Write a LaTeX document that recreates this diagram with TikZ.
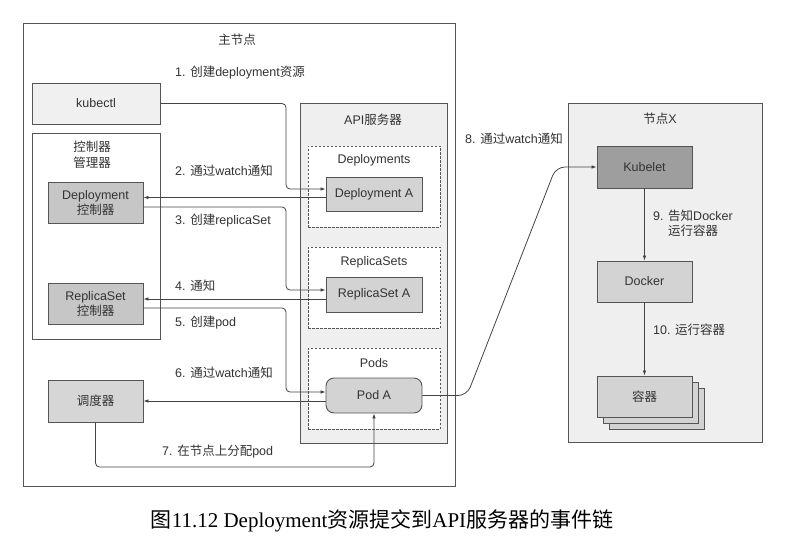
\documentclass[tikz,border=0pt]{standalone}
\usepackage{fontspec}
\setmainfont{Liberation Sans}
\newfontfamily\cjk{Noto Sans CJK SC}
\newfontfamily\capserif{Liberation Serif}
\newcommand\zh[1]{{\cjk #1}}
\usetikzlibrary{arrows.meta}
\definecolor{bd}{HTML}{555555}
\definecolor{ln}{HTML}{444444}
\definecolor{txt}{HTML}{333333}
\definecolor{flight}{HTML}{F0F0F0}
\definecolor{fpanel}{HTML}{EFEFEF}
\definecolor{fmid}{HTML}{D3D3D3}
\definecolor{fctrl}{HTML}{C6C6C6}
\definecolor{fsched}{HTML}{D6D6D6}
\definecolor{fkube}{HTML}{9E9E9E}
\begin{document}
\begin{tikzpicture}[x=1pt,y=-1pt,
  every node/.style={font=\fontsize{12.5}{15}\selectfont, text=txt},
  frame/.style={draw=bd, line width=0.9pt, inner sep=0pt},
  box/.style={draw=bd, line width=0.9pt, minimum width=95pt, minimum height=41pt, inner sep=0pt, align=center},
  dbox/.style={draw=bd, dash pattern=on 2.5pt off 1.5pt, fill=white, line width=0.8pt, inner sep=0pt},
  conn/.style={draw=ln, line width=0.8pt, rounded corners=4pt, -{Latex[length=5pt,width=3.6pt]}},
  lab/.style={anchor=west, inner sep=0pt},
]
\fill[white] (0,0) rectangle (800,556);
\useasboundingbox (0,0) rectangle (800,556);

% containers
\node[frame, fill=white, minimum width=432pt, minimum height=463pt] (master) at (239,254.5) {};
\node (mtitle) at (237,40) {\zh{主节点}};
\node[frame, fill=flight, minimum width=128pt, minimum height=41pt] (kubectl) at (96,103.5) {kubectl};
\node[frame, fill=white, minimum width=128pt, minimum height=206pt] (cm) at (96,236) {};
\node[align=center, font=\fontsize{12.5}{16}\selectfont] (cmtitle) at (92,155) {\zh{控制器}\\\zh{管理器}};
\node[box, fill=fctrl] (depc) at (95.5,202.5) {Deployment\\\zh{控制器}};
\node[box, fill=fctrl] (rsc) at (95.5,303.5) {ReplicaSet\\\zh{控制器}};
\node[box, fill=fsched, minimum height=42pt] (sched) at (95.5,401) {\zh{调度器}};

\node[frame, fill=fpanel, minimum width=147pt, minimum height=340pt] (api) at (373.5,273) {};
\node (apititle) at (373,120) {API\zh{服务器}};
\node[dbox, minimum width=132pt, minimum height=81pt] (deps) at (374,186.5) {};
\node (depstitle) at (374,160) {Deployments};
\node[box, fill=fmid, minimum width=96pt, minimum height=34pt] (depA) at (374,194) {Deployment A};
\node[dbox, minimum width=132pt, minimum height=81pt] (rss) at (374,287.5) {};
\node (rsstitle) at (374,262) {ReplicaSets};
\node[box, fill=fmid, minimum width=96pt, minimum height=35pt] (rsA) at (374,294.5) {ReplicaSet A};
\node[dbox, minimum width=132pt, minimum height=81pt] (pods) at (374,388.5) {};
\node (podstitle) at (374,363) {Pods};
\node[box, fill=fmid, minimum width=96pt, minimum height=35pt, rounded corners=8pt] (podA) at (374,395.5) {Pod A};

\node[frame, fill=fpanel, minimum width=194pt, minimum height=339pt] (nodex) at (665,272.5) {};
\node (nxtitle) at (660,119) {\zh{节点}X};
\node[box, fill=fkube, minimum height=42pt] (kubelet) at (644.5,167) {Kubelet};
\node[box, fill=fmid] (docker) at (644.5,281.5) {Docker};
\node[box, fill=fmid] (ct3) at (656.5,408.5) {};
\node[box, fill=fmid] (ct2) at (650.5,402.5) {};
\node[box, fill=fmid] (ct1) at (644.5,396.5) {\zh{容器}};

% connectors
\coordinate (c1) at (286,189);
\draw[conn] (kubectl.east) -| (c1) -- (c1 -| depA.west);
\draw[conn] (depA.west |- 0,197.5) -- (depc.east |- 0,197.5);
\coordinate (c3) at (286,290);
\draw[conn] (depc.east |- 0,207) -| (c3) -- (c3 -| rsA.west);
\draw[conn] (rsA.west |- 0,299) -- (rsc.east |- 0,299);
\coordinate (c5) at (286,392);
\draw[conn] (rsc.east |- 0,308) -| (c5) -- (c5 -| podA.west);
\draw[conn] (podA.west |- 0,401) -- (sched.east |- 0,401);
\coordinate (c7) at (95.5,467);
\draw[conn] (sched.south) -- (c7) -| (podA.south);
\coordinate (c8a) at (467,395.5);
\coordinate (c8b) at (556,167);
\draw[conn, rounded corners=9pt] (podA.east) -- (c8a) -- (c8b) -- (kubelet.west);
\draw[conn] (kubelet.south) -- (docker.north);
\draw[conn] (docker.south) -- (ct1.north);

% labels
\node[lab] (l1) at (175,73) {1. \zh{创建}deployment\zh{资源}};
\node[lab] (l2) at (175,171) {2. \zh{通过}watch\zh{通知}};
\node[lab] (l3) at (175,221) {3. \zh{创建}replicaSet};
\node[lab] (l4) at (175,286) {4. \zh{通知}};
\node[lab] (l5) at (175,323) {5. \zh{创建}pod};
\node[lab] (l6) at (175,373) {6. \zh{通过}watch\zh{通知}};
\node[lab] (l7) at (162,452) {7. \zh{在节点上分配}pod};
\node[lab] (l8) at (465,139) {8. \zh{通过}watch\zh{通知}};
\node[align=center, inner sep=0pt] (l9) at (693,223.5) {9. \zh{告知}Docker\\\zh{运行容器}};
\node[lab] (l10) at (653,330) {10. \zh{运行容器}};

% caption
\node[font=\fontsize{21}{24}\selectfont, text=black] (cap) at (382,521) {\capserif\zh{图}11.12 Deployment\zh{资源提交到}API\zh{服务器的事件链}};
\end{tikzpicture}
\end{document}
